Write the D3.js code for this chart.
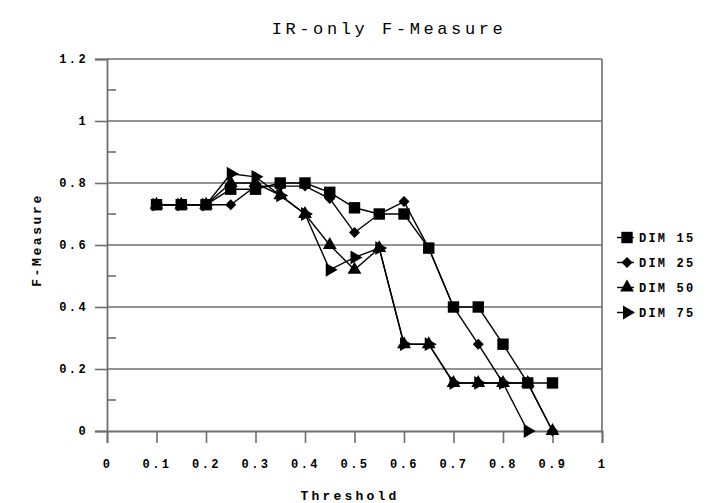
<!DOCTYPE html>
<html>
<head>
<meta charset="utf-8">
<script src="https://cdn.jsdelivr.net/npm/d3@7"></script>
<style>
  body { margin: 0; background: #fff; }
  text { font-family: "Liberation Mono", "DejaVu Sans Mono", monospace; fill: #000; }
</style>
</head>
<body>
<div id="chartContainer"></div>
<script>
// values
var thresholds = [0.1, 0.15, 0.2, 0.25, 0.3, 0.35, 0.4, 0.45, 0.5, 0.55, 0.6, 0.65, 0.7, 0.75, 0.8, 0.85, 0.9];
var dim15 = [0.73, 0.73, 0.73, 0.78, 0.78, 0.80, 0.80, 0.77, 0.72, 0.70, 0.70, 0.59, 0.40, 0.40, 0.28, 0.155, 0.155];
var dim25 = [0.73, 0.73, 0.73, 0.73, 0.79, 0.79, 0.79, 0.75, 0.64, 0.70, 0.74, 0.59, 0.40, 0.28, 0.155, 0.155, 0];
var dim50 = [0.73, 0.73, 0.73, 0.80, 0.80, 0.76, 0.70, 0.60, 0.52, 0.59, 0.28, 0.28, 0.155, 0.155, 0.155, 0.155, 0];
var dim75 = [0.73, 0.73, 0.73, 0.83, 0.82, 0.76, 0.70, 0.52, 0.56, 0.59, 0.28, 0.28, 0.155, 0.155, 0.155, 0, null];
var seriesNames = ["DIM 15", "DIM 25", "DIM 50", "DIM 75"];
var xTicks = [0, 0.1, 0.2, 0.3, 0.4, 0.5, 0.6, 0.7, 0.8, 0.9, 1];
var yTicks = [0, 0.2, 0.4, 0.6, 0.8, 1, 1.2];
var yMinorTicks = [0.1, 0.3, 0.5, 0.7, 0.9, 1.1];

var allSeries = [dim15, dim25, dim50, dim75];
var symbols = ["square", "diamond", "triangle", "right"];

var width = 712, height = 503;
var plot = { left: 107, right: 602, top: 59, bottom: 431 };

var svg = d3.select("#chartContainer")
  .append("svg")
  .attr("width", width)
  .attr("height", height);

var x = d3.scaleLinear().domain([0, 1]).range([plot.left, plot.right]);
var y = d3.scaleLinear().domain([0, 1.2]).range([plot.bottom, plot.top]);

var gridColor = "#6e6e6e";

// horizontal gridlines
svg.append("g")
  .selectAll("line")
  .data(yTicks.filter(function(d) { return d > 0; }))
  .enter()
  .append("line")
  .attr("x1", plot.left)
  .attr("x2", plot.right)
  .attr("y1", function(d) { return y(d); })
  .attr("y2", function(d) { return y(d); })
  .attr("stroke", gridColor)
  .attr("stroke-width", 1.6);

// right border
svg.append("line")
  .attr("x1", plot.right).attr("x2", plot.right)
  .attr("y1", plot.top).attr("y2", plot.bottom)
  .attr("stroke", gridColor)
  .attr("stroke-width", 1.6);

// y axis
var yAxis = svg.append("g")
  .attr("transform", "translate(" + plot.left + ",0)")
  .call(d3.axisLeft(y).tickValues(yTicks).tickSize(12).tickPadding(7)
    .tickFormat(function(d) { return d3.format("")(d); }));
yAxis.select(".domain").attr("stroke", gridColor).attr("stroke-width", 1.8);
yAxis.selectAll(".tick line").attr("stroke", gridColor).attr("stroke-width", 1.6);
yAxis.selectAll(".tick text")
  .attr("font-size", "12px")
  .attr("font-weight", "bold")
  .attr("letter-spacing", "2.4px");

svg.append("g")
  .selectAll("line")
  .data(yMinorTicks)
  .enter()
  .append("line")
  .attr("x1", plot.left)
  .attr("x2", plot.left + 9)
  .attr("y1", function(d) { return y(d); })
  .attr("y2", function(d) { return y(d); })
  .attr("stroke", gridColor)
  .attr("stroke-width", 1.6);

// x axis
var xAxis = svg.append("g")
  .attr("transform", "translate(0," + plot.bottom + ")")
  .call(d3.axisBottom(x).tickValues(xTicks).tickSize(12).tickPadding(16)
    .tickFormat(function(d) { return d3.format("")(d); }));
xAxis.select(".domain").attr("stroke", gridColor).attr("stroke-width", 1.8);
xAxis.selectAll(".tick line").attr("stroke", gridColor).attr("stroke-width", 1.6);
xAxis.selectAll(".tick text")
  .attr("font-size", "12px")
  .attr("font-weight", "bold")
  .attr("letter-spacing", "2.4px");

// series lines and markers
function markerPath(kind) {
  if (kind === "square") return d3.symbol().type(d3.symbolSquare).size(130)();
  if (kind === "diamond") return d3.symbol().type(d3.symbolSquare).size(60)();
  return d3.symbol().type(d3.symbolTriangle).size(82)();
}
function markerTurn(kind) {
  if (kind === "diamond") return " rotate(45)";
  if (kind === "right") return " rotate(90)";
  return "";
}

var line = d3.line()
  .defined(function(d) { return d.v !== null; })
  .x(function(d) { return x(d.t); })
  .y(function(d) { return y(d.v); });

// draw DIM 75 first so DIM 15 squares end up on top
d3.range(allSeries.length - 1, -1, -1).forEach(function(s) {
  var values = allSeries[s];
  var pts = thresholds.map(function(t, i) { return { t: t, v: values[i] }; });
  var g = svg.append("g");
  g.append("path")
    .datum(pts)
    .attr("d", line)
    .attr("fill", "none")
    .attr("stroke", "#000")
    .attr("stroke-width", 1.4);
  g.selectAll("path.mark")
    .data(pts.filter(function(d) { return d.v !== null; }))
    .enter()
    .append("path")
    .attr("class", "mark")
    .attr("d", markerPath(symbols[s]))
    .attr("transform", function(d) {
      return "translate(" + x(d.t) + "," + y(d.v) + ")" + markerTurn(symbols[s]);
    })
    .attr("fill", "#000");
});

// legend
var legendY = d3.scaleBand().domain(seriesNames).range([226, 326]);
var legend = svg.append("g");
seriesNames.forEach(function(name, s) {
  var cy = legendY(name) + legendY.bandwidth() / 2 - 1;
  legend.append("line")
    .attr("x1", 617).attr("x2", 634)
    .attr("y1", cy).attr("y2", cy)
    .attr("stroke", "#000").attr("stroke-width", 1.4);
  legend.append("path")
    .attr("d", markerPath(symbols[s]))
    .attr("transform", "translate(627," + cy + ")" + markerTurn(symbols[s]))
    .attr("fill", "#000");
  legend.append("text")
    .attr("x", 639)
    .attr("y", cy + 4)
    .attr("font-size", "12px")
    .attr("font-weight", "bold")
    .attr("letter-spacing", "2.2px")
    .text(name);
});

// titles
svg.append("text")
  .attr("x", 389)
  .attr("y", 34)
  .attr("text-anchor", "middle")
  .attr("font-size", "17px")
  .attr("letter-spacing", "3.6px")
  .text("IR-only F-Measure");

svg.append("text")
  .attr("x", 350)
  .attr("y", 500)
  .attr("text-anchor", "middle")
  .attr("font-size", "13px")
  .attr("font-weight", "bold")
  .attr("letter-spacing", "3.2px")
  .text("Threshold");

svg.append("text")
  .attr("transform", "translate(41,240) rotate(-90)")
  .attr("text-anchor", "middle")
  .attr("font-size", "13px")
  .attr("font-weight", "bold")
  .attr("letter-spacing", "2.6px")
  .text("F-Measure");
</script>
</body>
</html>
